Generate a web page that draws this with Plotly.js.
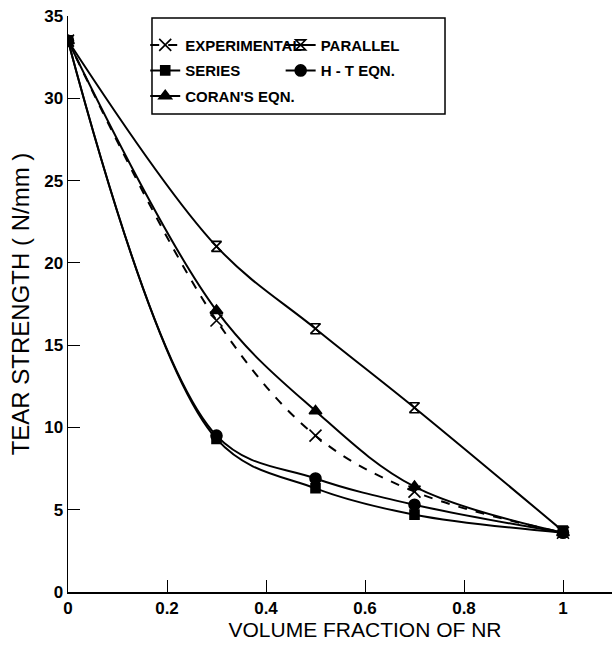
<!DOCTYPE html>
<html>
<head>
<meta charset="utf-8">
<script src="https://cdn.plot.ly/plotly-3.0.1.min.js"></script>
<style>html,body{margin:0;padding:0;background:#fff;overflow:hidden;}#chart{width:662px;height:659px;}</style>
</head>
<body>
<div id="chart"></div>
<script>
const volumeFraction = [0, 0.3, 0.5, 0.7, 1.0];
const experimental = [33.5, 16.5, 9.5, 6.1, 3.6];
const parallel = [33.5, 21.0, 16.0, 11.2, 3.7];
const series = [33.5, 9.3, 6.3, 4.7, 3.6];
const htEqn = [33.5, 9.5, 6.9, 5.3, 3.6];
const coranEqn = [33.5, 17.1, 11.0, 6.4, 3.6];
const seriesNames = ["EXPERIMENTAL", "PARALLEL", "SERIES", "H - T EQN.", "CORAN'S EQN."];
const xTicks = [0, 0.2, 0.4, 0.6, 0.8, 1];
const xTickText = ["0", "0.2", "0.4", "0.6", "0.8", "1"];
const yTicks = [0, 5, 10, 15, 20, 25, 30, 35];

const lineStyle = {color: "#000", width: 2, shape: "spline", smoothing: 1};
function tr(y, name, symbol, size, legend, dash, group) {
  return {
    x: volumeFraction, y: y, name: name, type: "scatter", mode: "lines+markers",
    legend: legend, legendgroup: group,
    line: Object.assign({}, lineStyle, {dash: dash || "solid"}),
    marker: {symbol: symbol, size: size, color: "#000", line: {color: "#000", width: 1.6}}
  };
}
const data = [
  tr(experimental, seriesNames[0], "x-thin-open", 12, "legend", "dash", "a"),
  tr(series, seriesNames[2], "square", 9, "legend", null, "b"),
  tr(coranEqn, seriesNames[4], "triangle-up", 11, "legend", null, "c"),
  tr(parallel, seriesNames[1], "hourglass-open", 10, "legend2", null, "d"),
  tr(htEqn, seriesNames[3], "circle", 11, "legend2", null, "e")
];
const font = {family: "Liberation Sans, Arial, sans-serif", color: "#000"};
const legendBase = {
  bgcolor: "rgba(0,0,0,0)", borderwidth: 0, orientation: "v",
  xanchor: "left", yanchor: "top", itemwidth: 30, tracegroupgap: 3,
  font: Object.assign({}, font, {size: 15, weight: "bold"})
};
const layout = {
  width: 662, height: 659,
  margin: {l: 68, r: 0, t: 16, b: 67},
  paper_bgcolor: "#fff", plot_bgcolor: "#fff",
  font: font,
  showlegend: true,
  legend: Object.assign({}, legendBase, {x: 0.13, y: 0.978}),
  legend2: Object.assign({}, legendBase, {x: 0.358, y: 0.978}),
  xaxis: {
    range: [0, 1.2], tickvals: xTicks, ticktext: xTickText,
    ticks: "inside", ticklen: 12, tickwidth: 1, tickcolor: "#000",
    showline: true, linecolor: "#000", linewidth: 1.5, showgrid: false, zeroline: false,
    tickfont: Object.assign({}, font, {size: 17, weight: "bold"}),
    title: {text: "VOLUME FRACTION OF NR", font: Object.assign({}, font, {size: 21}), standoff: 5}
  },
  yaxis: {
    range: [0, 35], tickvals: yTicks,
    ticks: "inside", ticklen: 12, tickwidth: 1, tickcolor: "#000",
    showline: true, linecolor: "#000", linewidth: 1.5, showgrid: false, zeroline: false,
    tickfont: Object.assign({}, font, {size: 17, weight: "bold"}),
    title: {text: "TEAR STRENGTH ( N/mm )", font: Object.assign({}, font, {size: 24}), standoff: 8}
  },
  shapes: [{
    type: "rect", xref: "paper", yref: "paper",
    x0: 0.1414, x1: 0.6347, y0: 0.83, y1: 0.9965,
    line: {color: "#000", width: 1.5}, fillcolor: "rgba(0,0,0,0)"
  }]
};
Plotly.newPlot("chart", data, layout, {displayModeBar: false, staticPlot: true});
</script>
</body>
</html>
